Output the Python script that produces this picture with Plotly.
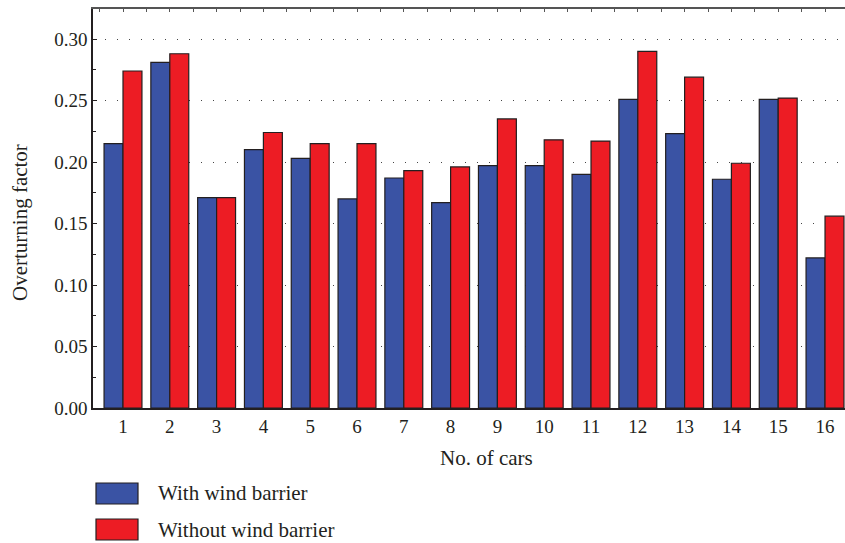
import plotly.graph_objects as go

# Overturning factor for each car of the train, with and without a wind barrier
cars = list(range(1, 17))
with_barrier = [0.215, 0.281, 0.171, 0.210, 0.203, 0.170, 0.187, 0.167,
                0.197, 0.197, 0.190, 0.251, 0.223, 0.186, 0.251, 0.122]
without_barrier = [0.274, 0.288, 0.171, 0.224, 0.215, 0.215, 0.193, 0.196,
                   0.235, 0.218, 0.217, 0.290, 0.269, 0.199, 0.252, 0.156]
series_names = ["With wind barrier", "Without wind barrier"]
y_ticks = [0.00, 0.05, 0.10, 0.15, 0.20, 0.25, 0.30]
x_title = "No. of cars"
y_title = "Overturning factor"

BLUE = "#3A53A4"
RED = "#ED1C24"
EDGE = "#231F20"
FONT = "Liberation Serif"

W, H = 845, 543
L, R, T, B = 93, 0, 9, 135

fig = go.Figure()
fig.add_trace(go.Bar(x=cars, y=with_barrier, name=series_names[0],
                     marker=dict(color=BLUE, line=dict(color=EDGE, width=1.2)),
                     showlegend=False))
fig.add_trace(go.Bar(x=cars, y=without_barrier, name=series_names[1],
                     marker=dict(color=RED, line=dict(color=EDGE, width=1.2)),
                     showlegend=False))
# empty trace so the top axis (half-car ticks) is drawn
fig.add_trace(go.Scatter(x=[], y=[], xaxis="x2", yaxis="y", showlegend=False))

fig.update_layout(
    width=W, height=H,
    margin=dict(l=L, r=R, t=T, b=B),
    paper_bgcolor="white", plot_bgcolor="white",
    barmode="group", bargap=0.19, bargroupgap=0.0,
    font=dict(family=FONT, size=19, color=EDGE),
    xaxis=dict(
        range=[0.359, 16.427], tickmode="array", tickvals=cars,
        ticktext=[str(c) for c in cars], ticks="", showgrid=False,
        showline=True, linecolor=EDGE, linewidth=1.5,
        tickfont=dict(size=19), zeroline=False,
    ),
    xaxis2=dict(
        overlaying="x", matches="x", side="top", showline=True,
        linecolor="#555555", linewidth=1.5, ticks="inside", ticklen=3,
        tickcolor="#555555", tickmode="linear", tick0=0.5, dtick=0.5,
        showticklabels=False, showgrid=False, zeroline=False,
    ),
    yaxis=dict(
        range=[0, 0.3244], tickmode="array", tickvals=y_ticks,
        ticktext=[f"{v:.2f}" for v in y_ticks],
        ticks="inside", ticklen=4, tickcolor=EDGE,
        minor=dict(ticks="inside", ticklen=3, dtick=0.025, tick0=0,
                   tickcolor=EDGE, showgrid=False),
        showline=True, linecolor=EDGE, linewidth=1.5,
        showgrid=True, gridcolor="#444444", gridwidth=1, griddash="1px,11px",
        zeroline=False, tickfont=dict(size=19),
    ),
)

pw, ph = W - L - R, H - T - B


def px_x(x):
    return (x - L) / pw


def px_y(y):
    return (H - B - y) / ph


# axis titles
fig.add_annotation(xref="paper", yref="paper", x=px_x(486), y=px_y(458),
                   text=x_title, showarrow=False, xanchor="center",
                   yanchor="middle", font=dict(family=FONT, size=21, color=EDGE))
fig.add_annotation(xref="paper", yref="paper", x=px_x(20), y=px_y(223),
                   text=y_title, showarrow=False, textangle=-90,
                   xanchor="center", yanchor="middle",
                   font=dict(family=FONT, size=21, color=EDGE))

# legend below the axes with large swatches
legend_rows = [(series_names[0], BLUE, 483, 504), (series_names[1], RED, 519, 540)]
for name, color, y0, y1 in legend_rows:
    fig.add_shape(type="rect", xref="paper", yref="paper",
                  x0=px_x(96), x1=px_x(138), y0=px_y(y1), y1=px_y(y0),
                  fillcolor=color, line=dict(color=EDGE, width=1.2))
    fig.add_annotation(xref="paper", yref="paper", x=px_x(156),
                       y=px_y((y0 + y1) / 2), text=name, showarrow=False,
                       xanchor="left", yanchor="middle",
                       font=dict(family=FONT, size=21, color=EDGE))

fig.write_html("out.html")
